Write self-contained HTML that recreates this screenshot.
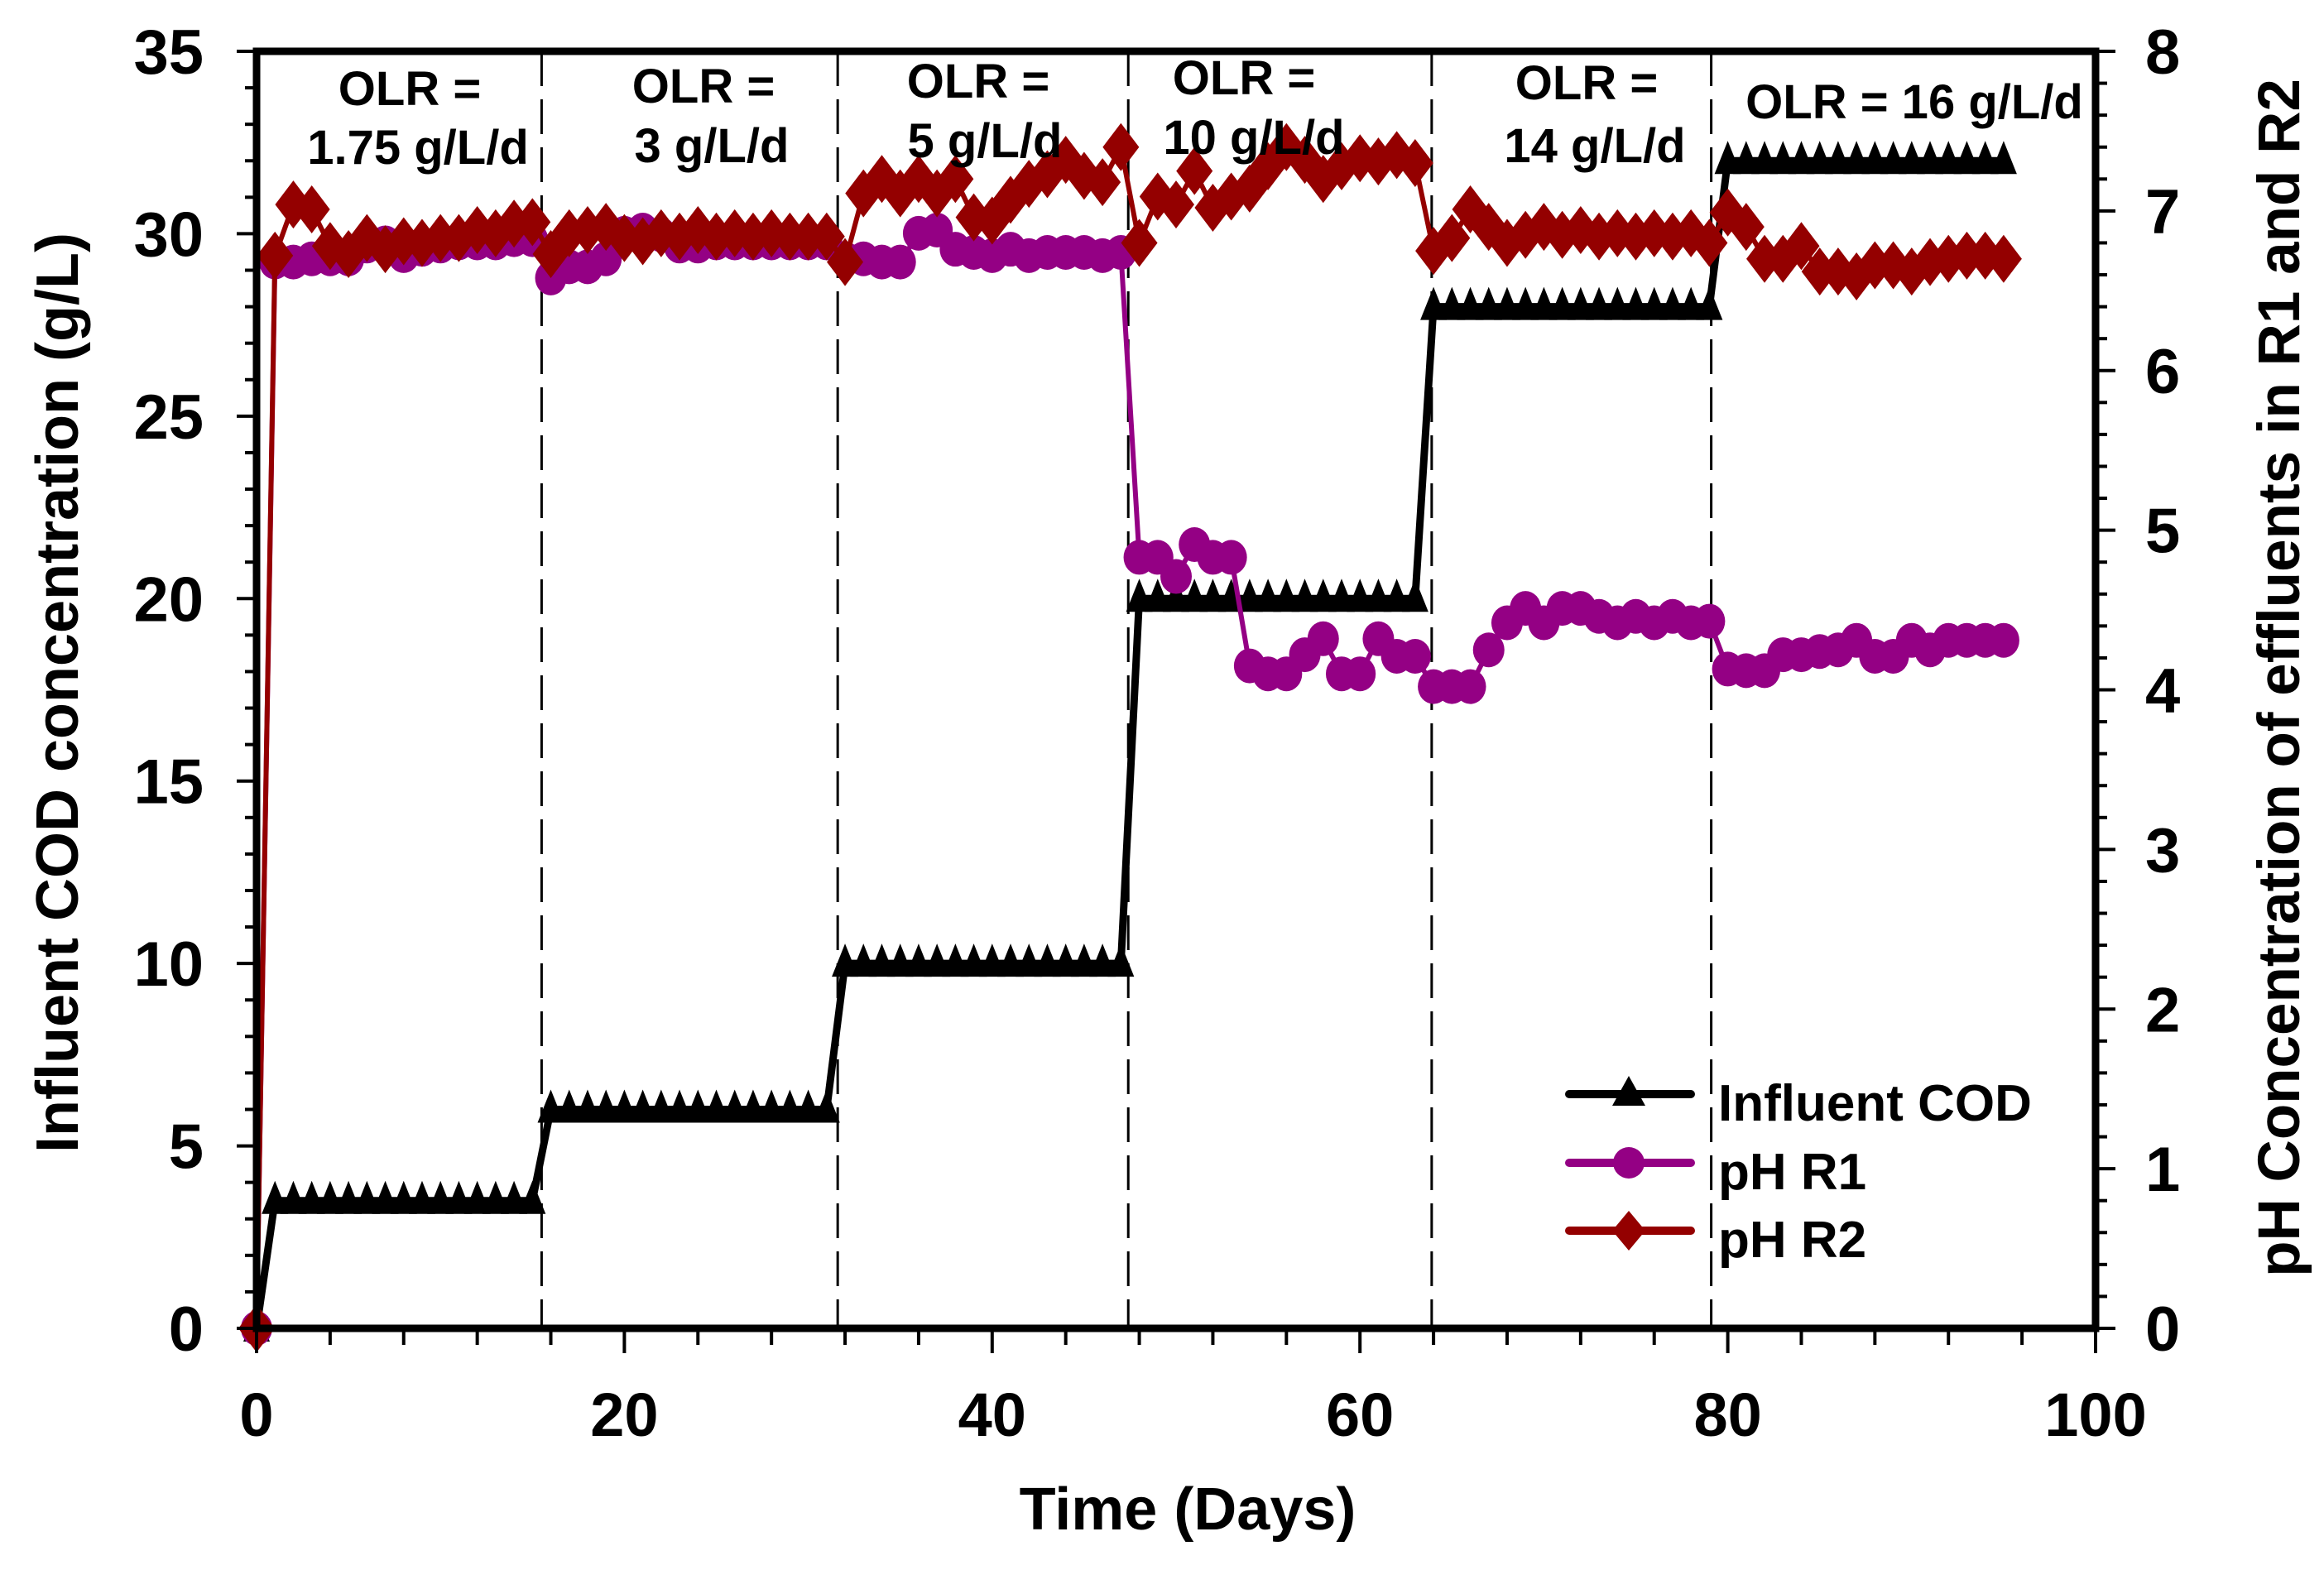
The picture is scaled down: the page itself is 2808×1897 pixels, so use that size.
<!DOCTYPE html>
<html><head><meta charset="utf-8">
<style>
html,body{margin:0;padding:0;background:#fff;}
svg{display:block;font-family:"Liberation Sans",Arial,sans-serif;font-weight:bold;}
</style></head>
<body>
<svg id="chart" width="2808" height="1897" viewBox="0 0 2808 1897" xmlns="http://www.w3.org/2000/svg">
<rect width="2808" height="1897" fill="#fff"/>
<g id="dividers"></g>
<g id="series"></g>
<g id="axes"></g>
<g id="labels">
<text x="495" y="127" font-size="58" text-anchor="middle">OLR =</text>
<text x="505" y="198" font-size="58" text-anchor="middle">1.75 g/L/d</text>
<text x="850" y="124" font-size="58" text-anchor="middle">OLR =</text>
<text x="860" y="196" font-size="58" text-anchor="middle">3 g/L/d</text>
<text x="1182" y="118" font-size="58" text-anchor="middle">OLR =</text>
<text x="1190" y="190" font-size="58" text-anchor="middle">5 g/L/d</text>
<text x="1503" y="114" font-size="58" text-anchor="middle">OLR =</text>
<text x="1515" y="186" font-size="58" text-anchor="middle">10 g/L/d</text>
<text x="1917" y="120" font-size="58" text-anchor="middle">OLR =</text>
<text x="1927" y="196" font-size="58" text-anchor="middle">14 g/L/d</text>
<text x="2313" y="143" font-size="58" text-anchor="middle">OLR = 16 g/L/d</text>
</g>
<g id="legend">
<g>
<line x1="1896" y1="1322" x2="2043" y2="1322" stroke="#000" stroke-width="10" stroke-linecap="round"/>
<polygon points="1968,1300 1988,1336 1948,1336" fill="#000"/>
<text x="2076" y="1354" font-size="62">Influent COD</text></g>
<g>
<line x1="1896" y1="1405" x2="2043" y2="1405" stroke="#940084" stroke-width="10" stroke-linecap="round"/>
<circle cx="1968" cy="1405" r="19" fill="#940084"/>
<text x="2076" y="1437" font-size="62">pH R1</text></g>
<g>
<line x1="1896" y1="1487" x2="2043" y2="1487" stroke="#940000" stroke-width="10" stroke-linecap="round"/>
<polygon points="1968,1463 1988,1487 1968,1511 1948,1487" fill="#940000"/>
<text x="2076" y="1519" font-size="62">pH R2</text></g>
</g>
<text x="1435" y="1848" font-size="72" text-anchor="middle">Time (Days)</text>
<text transform="translate(94,837) rotate(-90)" font-size="72" text-anchor="middle">Influent COD concentration (g/L)</text>
<text transform="translate(2778,819) rotate(-90)" font-size="71" text-anchor="middle">pH Concentration of effluents in R1 and R2</text>
</svg>
<script>
const days = [0,1,2,3,4,5,6,7,8,9,10,11,12,13,14,15,16,17,18,19,20,21,22,23,24,25,26,27,28,29,30,31,32,33,34,35,36,37,38,39,40,41,42,43,44,45,46,47,48,49,50,51,52,53,54,55,56,57,58,59,60,61,62,63,64,65,66,67,68,69,70,71,72,73,74,75,76,77,78,79,80,81,82,83,84,85,86,87,88,89,90,91,92,93,94,95];
const codValues = [0,3.5,3.5,3.5,3.5,3.5,3.5,3.5,3.5,3.5,3.5,3.5,3.5,3.5,3.5,3.5,6,6,6,6,6,6,6,6,6,6,6,6,6,6,6,6,10,10,10,10,10,10,10,10,10,10,10,10,10,10,10,10,20,20,20,20,20,20,20,20,20,20,20,20,20,20,20,20,28,28,28,28,28,28,28,28,28,28,28,28,28,28,28,28,32,32,32,32,32,32,32,32,32,32,32,32,32,32,32,32];
const phR1 = [0,6.68,6.68,6.7,6.7,6.7,6.78,6.8,6.72,6.76,6.78,6.8,6.8,6.8,6.82,6.82,6.58,6.65,6.65,6.7,6.86,6.88,6.85,6.78,6.78,6.8,6.8,6.8,6.8,6.8,6.8,6.8,6.7,6.7,6.68,6.68,6.86,6.88,6.76,6.74,6.72,6.76,6.72,6.74,6.74,6.74,6.72,6.74,4.83,4.83,4.71,4.91,4.83,4.83,4.15,4.1,4.1,4.22,4.32,4.1,4.1,4.32,4.21,4.21,4.02,4.02,4.02,4.25,4.42,4.51,4.42,4.51,4.51,4.46,4.42,4.46,4.42,4.46,4.42,4.43,4.13,4.12,4.12,4.22,4.22,4.24,4.25,4.31,4.21,4.21,4.31,4.25,4.31,4.31,4.31,4.31];
const phR2 = [0,6.72,7.04,7.01,6.78,6.73,6.83,6.76,6.81,6.8,6.83,6.83,6.88,6.86,6.92,6.93,6.73,6.86,6.88,6.9,6.83,6.81,6.86,6.84,6.88,6.84,6.86,6.84,6.86,6.84,6.84,6.84,6.68,7.11,7.2,7.11,7.2,7.11,7.2,6.96,6.94,7.07,7.17,7.23,7.32,7.22,7.18,7.4,6.8,7.09,7.04,7.25,7.02,7.09,7.14,7.28,7.4,7.32,7.2,7.28,7.33,7.31,7.35,7.3,6.75,6.83,7.01,6.9,6.8,6.85,6.9,6.85,6.88,6.84,6.86,6.84,6.86,6.84,6.86,6.8,6.99,6.9,6.7,6.7,6.78,6.62,6.62,6.59,6.66,6.66,6.62,6.68,6.7,6.72,6.72,6.7];
const dividerDays = [15.5,31.6,47.4,63.9,79.1];
const xTicks = [0,20,40,60,80,100];
const leftTicks = [0,5,10,15,20,25,30,35];
const rightTicks = [0,1,2,3,4,5,6,7,8];

const NS = "http://www.w3.org/2000/svg";
const L = 310, R = 2532, T = 62, B = 1605;
const xS = d => L + (d / 100) * (R - L);
const yL = v => B - (v / 35) * (B - T);
const yR = v => B - (v / 8) * (B - T);
function mk(tag, attrs, parent) {
  const e = document.createElementNS(NS, tag);
  for (const k in attrs) e.setAttribute(k, attrs[k]);
  parent.appendChild(e);
  return e;
}
const axes = document.getElementById('axes');
const series = document.getElementById('series');
const dividers = document.getElementById('dividers');

dividerDays.forEach((d, i) => {
  const ln = mk('line', {x1: xS(d), x2: xS(d), y1: T, y2: B, stroke: '#000', 'stroke-width': 3, 'stroke-dasharray': '42 16'}, dividers);
  
  
});

function drawSeries(vals, yf, color, lw, marker, name) {
  const g = mk('g', {}, series);
  
  
  const pts = days.map((d, i) => xS(d) + ',' + yf(vals[i])).join(' ');
  mk('polyline', {points: pts, fill: 'none', stroke: color, 'stroke-width': lw, 'stroke-linejoin': 'round'}, g);
  days.forEach((d, i) => {
    const x = xS(d), y = yf(vals[i]);
    let m;
    if (marker === 'tri') m = mk('polygon', {points: `${x},${y-24} ${x+16},${y+16} ${x-16},${y+16}`, fill: color}, g);
    else if (marker === 'circ') m = mk('ellipse', {cx: x, cy: y, rx: 19, ry: 21, fill: color}, g);
    else m = mk('polygon', {points: `${x},${y-29} ${x+22},${y} ${x},${y+29} ${x-22},${y}`, fill: color}, g);
    
    
  });
}
drawSeries(codValues, yL, '#000', 9, 'tri', 'influent-cod-series');
drawSeries(phR1, yR, '#940084', 6, 'circ', 'ph-r1-series');
drawSeries(phR2, yR, '#940000', 6, 'dia', 'ph-r2-series');

const fr = mk('rect', {x: L, y: T, width: R - L, height: B - T, fill: 'none', stroke: '#000', 'stroke-width': 9}, axes);



for (let d = 0; d <= 100; d += 4) {
  const major = d % 20 === 0;
  mk('line', {x1: xS(d), x2: xS(d), y1: B, y2: B + (major ? 30 : 20), stroke: '#000', 'stroke-width': 4}, axes);
}
xTicks.forEach(v => {
  const t = mk('text', {x: xS(v), y: 1735, 'font-size': 74, 'text-anchor': 'middle'}, axes);
  t.textContent = v;
  
  
});
for (let v = 0; v <= 35; v += 1) {
  const major = v % 5 === 0;
  mk('line', {x1: L - (major ? 24 : 14), x2: L, y1: yL(v), y2: yL(v), stroke: '#000', 'stroke-width': 4}, axes);
}
leftTicks.forEach(v => {
  const t = mk('text', {x: 246, y: yL(v) + 27, 'font-size': 76, 'text-anchor': 'end'}, axes);
  t.textContent = v;
  
  
});
for (let i = 0; i <= 40; i++) {
  const v = i * 0.2;
  const major = i % 5 === 0;
  mk('line', {x1: R, x2: R + (major ? 24 : 14), y1: yR(v), y2: yR(v), stroke: '#000', 'stroke-width': 4}, axes);
}
rightTicks.forEach(v => {
  const t = mk('text', {x: 2592, y: yR(v) + 27, 'font-size': 76, 'text-anchor': 'start'}, axes);
  t.textContent = v;
  
  
});
</script>
</body></html>
